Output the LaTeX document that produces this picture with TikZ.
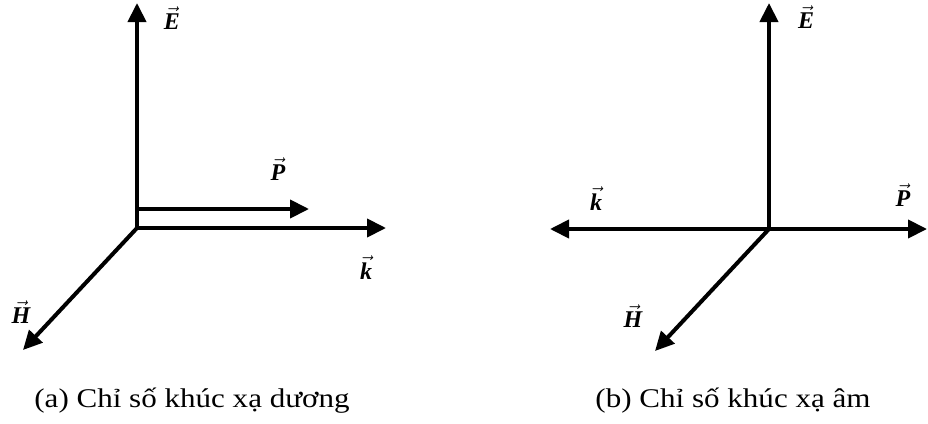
\documentclass[tikz,border=0pt]{standalone}
\usepackage{fontspec}
\setmainfont{Liberation Serif}
\usetikzlibrary{arrows.meta}
\begin{document}
\begin{tikzpicture}[x=1pt,y=-1pt,
  vecarrow/.style={line width=4pt, -{Triangle[length=19pt,width=18pt]}},
  lbl/.style={font=\fontsize{24}{28}\selectfont, inner sep=0pt},
  capt/.style={font=\fontsize{27}{32}\selectfont, inner sep=0pt, xscale=1.15, transform shape, anchor=base}]
\useasboundingbox (0,0) rectangle (928,423);
\newcommand{\vlab}[1]{$\vec{\mbox{\bfseries\itshape #1}}$}
% left panel
\coordinate (O1) at (137,228);
\coordinate (E1) at (137,3);
\coordinate (K1) at (386,228);
\coordinate (Ps1) at (137,209);
\coordinate (P1) at (309,209);
\coordinate (H1) at (23,350);
\draw[vecarrow] (O1) -- (E1);
\draw[vecarrow] (O1) -- (K1);
\draw[vecarrow] (Ps1) -- (P1);
\draw[vecarrow] (O1) -- (H1);
\node[lbl] (lE1) at (172,18) {\vlab{E}};
\node[lbl] (lP1) at (278,169) {\vlab{P}};
\node[lbl] (lK1) at (366,268) {\vlab{k}};
\node[lbl] (lH1) at (21,312) {\vlab{H}};
\node[capt] (c1) at (192,407) {(a) Chỉ số khúc xạ dương};
% right panel
\coordinate (O2) at (769,229);
\coordinate (E2) at (769,3);
\coordinate (K2) at (550,229);
\coordinate (P2) at (927,229);
\coordinate (H2) at (655,351);
\draw[vecarrow] (O2) -- (E2);
\draw[vecarrow] (O2) -- (K2);
\draw[vecarrow] (O2) -- (P2);
\draw[vecarrow] (O2) -- (H2);
\node[lbl] (lE2) at (806,17) {\vlab{E}};
\node[lbl] (lK2) at (596,199) {\vlab{k}};
\node[lbl] (lP2) at (903,195) {\vlab{P}};
\node[lbl] (lH2) at (633,316) {\vlab{H}};
\node[capt] (c2) at (733,407) {(b) Chỉ số khúc xạ âm};
\end{tikzpicture}
\end{document}
